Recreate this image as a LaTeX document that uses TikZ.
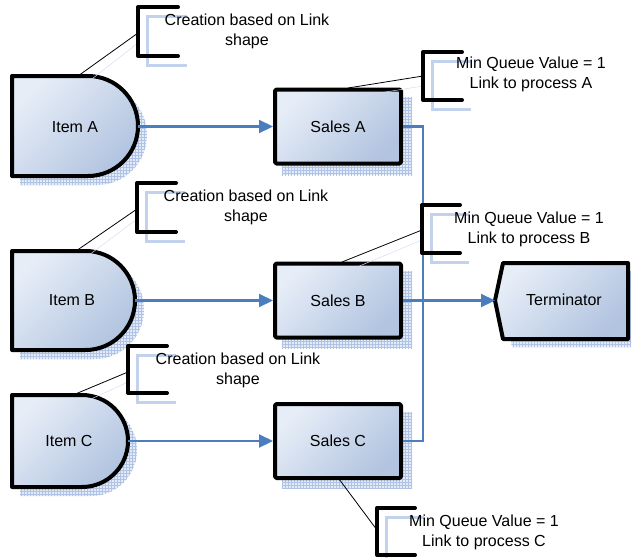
\documentclass[tikz,border=0pt]{standalone}
\usepackage{fontspec}
\setmainfont{Liberation Sans}
\usetikzlibrary{arrows.meta,patterns}
\definecolor{lite}{HTML}{E6EDF7}
\definecolor{dark}{HTML}{B2C4E0}
\definecolor{flow}{HTML}{4A7EBF}
\definecolor{shad}{HTML}{E4EBF7}
\definecolor{shadline}{HTML}{AFC3E6}
\begin{document}
\begin{tikzpicture}[x=1pt,y=-1pt,
  shapefill/.style={top color=lite,bottom color=dark,shading angle=45,draw=black,line width=4pt,line join=round},
  shadowfill/.style={fill=shad,postaction={pattern=grid,pattern color=shadline}},
  salesbox/.style={shapefill,rectangle,rounded corners=1.5pt,minimum width=126pt,minimum height=74pt,inner sep=0pt,font=\fontsize{16}{19}\selectfont},
  lbl/.style={inner sep=0pt,font=\fontsize{16}{19}\selectfont},
  calltext/.style={inner sep=0pt,align=center,font=\fontsize{16}{20}\selectfont},
  bracketline/.style={draw=black,line width=4pt,line cap=round,line join=round},
  bracketshadow/.style={draw=shadline!75,line width=3pt},
  leader/.style={draw=black,line width=0.8pt},
  leadershadow/.style={draw=shadline!55,line width=0.5pt},
  flowline/.style={draw=flow,line width=2.2pt},
  flowarrow/.style={flowline,-{Triangle[length=14pt,width=13pt]}}
]
\useasboundingbox (0,0) rectangle (631,557);
\clip (0,0) rectangle (631,557);

% ---------- shadows ----------
\fill[shadowfill] (20,85) -- (97,85) arc[start angle=-90,end angle=90,radius=50] -- (20,185) -- cycle;
\fill[shadowfill] (20,260) -- (94.5,260) arc[start angle=-90,end angle=90,radius=49.5] -- (20,359) -- cycle;
\fill[shadowfill] (20,404) -- (91,404) arc[start angle=-90,end angle=90,radius=46] -- (20,496) -- cycle;
\fill[shadowfill] (282,97) rectangle (412,175);
\fill[shadowfill] (282,271) rectangle (412,348);
\fill[shadowfill] (282,412) rectangle (412,488);
\fill[shadowfill] (504,308) -- (512,271) -- (640,271) -- (640,347) -- (512,347) -- cycle;

% callout bracket shadows
\draw[bracketshadow] (187,16) -- (147,16) -- (147,65) -- (187,65);
\draw[bracketshadow] (185,192) -- (146,192) -- (146,241) -- (185,241);
\draw[bracketshadow] (176,355) -- (137,355) -- (137,402) -- (176,402);
\draw[bracketshadow] (471,61) -- (432,61) -- (432,109) -- (471,109);
\draw[bracketshadow] (469,214) -- (431,214) -- (431,262) -- (469,262);
\draw[bracketshadow] (424,517) -- (386,517) -- (386,564) -- (424,564);

% ---------- item shapes ----------
\path[shapefill] (12,76) -- (88,76) arc[start angle=-90,end angle=90,radius=50] -- (12,176) -- cycle;
\path[shapefill] (12,251) -- (85.5,251) arc[start angle=-90,end angle=90,radius=49.5] -- (12,350) -- cycle;
\path[shapefill] (12,395) -- (82,395) arc[start angle=-90,end angle=90,radius=46] -- (12,487) -- cycle;
\node[lbl] (itemA) at (75,127) {Item A};
\node[lbl] (itemB) at (72,300.5) {Item B};
\node[lbl] (itemC) at (69,441) {Item C};
\coordinate (iAe) at (138,126.5);
\coordinate (iBe) at (135,300.5);
\coordinate (iCe) at (128,441);
\coordinate (iAt) at (78,76);
\coordinate (iBt) at (76,251);
\coordinate (iCt) at (73,395);

% ---------- sales boxes ----------
\node[salesbox] (salesA) at (338,126.5) {Sales A};
\node[salesbox] (salesB) at (338,300.5) {Sales B};
\node[salesbox] (salesC) at (338,441) {Sales C};

% ---------- terminator ----------
\path[shapefill] (495,300.5) -- (503,263) -- (628,263) -- (628,339) -- (503,339) -- cycle;
\node[lbl] (term) at (564,300) {Terminator};
\coordinate (termW) at (495,300.5);

% ---------- flow connectors ----------
\draw[flowarrow] (iAe) -- (salesA.west);
\draw[flowarrow] (iBe) -- (salesB.west);
\draw[flowarrow] (iCe) -- (salesC.west);
\coordinate (bus) at (423,0);
\draw[flowline] (salesA.east) -- (salesA.east -| bus) -- (salesC.east -| bus) -- (salesC.east);
\draw[flowarrow] (salesB.east) -- (termW);

% ---------- callouts ----------
\coordinate (bA) at (138,33);
\coordinate (bB) at (137,209);
\coordinate (bC) at (128,372);
\coordinate (bqA) at (423,76);
\coordinate (bqB) at (422,230);
\coordinate (bqC) at (377,530);
\coordinate (sAt) at (348,88);
\coordinate (sBt) at (342,262);
\coordinate (sCb) at (339,479);

\draw[leadershadow] (83,86) -- (138,43);
\draw[leadershadow] (81,261) -- (137,219);
\draw[leadershadow] (78,405) -- (128,382);
\draw[leadershadow] (348,98) -- (423,86);
\draw[leadershadow] (345,272) -- (422,240);

\draw[leader] (iAt) -- (bA);
\draw[leader] (iBt) -- (bB);
\draw[leader] (iCt) -- (bC);
\draw[leader] (sAt) -- (bqA);
\draw[leader] (sBt) -- (bqB);
\draw[leader] (sCb) -- (bqC);

\draw[bracketline] (178,7) -- (138,7) -- (138,56) -- (178,56);
\draw[bracketline] (176,183) -- (137,183) -- (137,232) -- (176,232);
\draw[bracketline] (167,346) -- (128,346) -- (128,393) -- (167,393);
\draw[bracketline] (462,52) -- (423,52) -- (423,100) -- (462,100);
\draw[bracketline] (460,205) -- (422,205) -- (422,253) -- (460,253);
\draw[bracketline] (415,508) -- (377,508) -- (377,555) -- (415,555);

\node[calltext] (cA) at (247,31.5) {Creation based on Link\\shape};
\node[calltext] (cB) at (246,207) {Creation based on Link\\shape};
\node[calltext] (cC) at (238,370) {Creation based on Link\\shape};
\node[calltext] (qA) at (531,74.5) {Min Queue Value = 1\\Link to process A};
\node[calltext] (qB) at (529,229) {Min Queue Value = 1\\Link to process B};
\node[calltext] (qC) at (484,532) {Min Queue Value = 1\\Link to process C};
\end{tikzpicture}
\end{document}
